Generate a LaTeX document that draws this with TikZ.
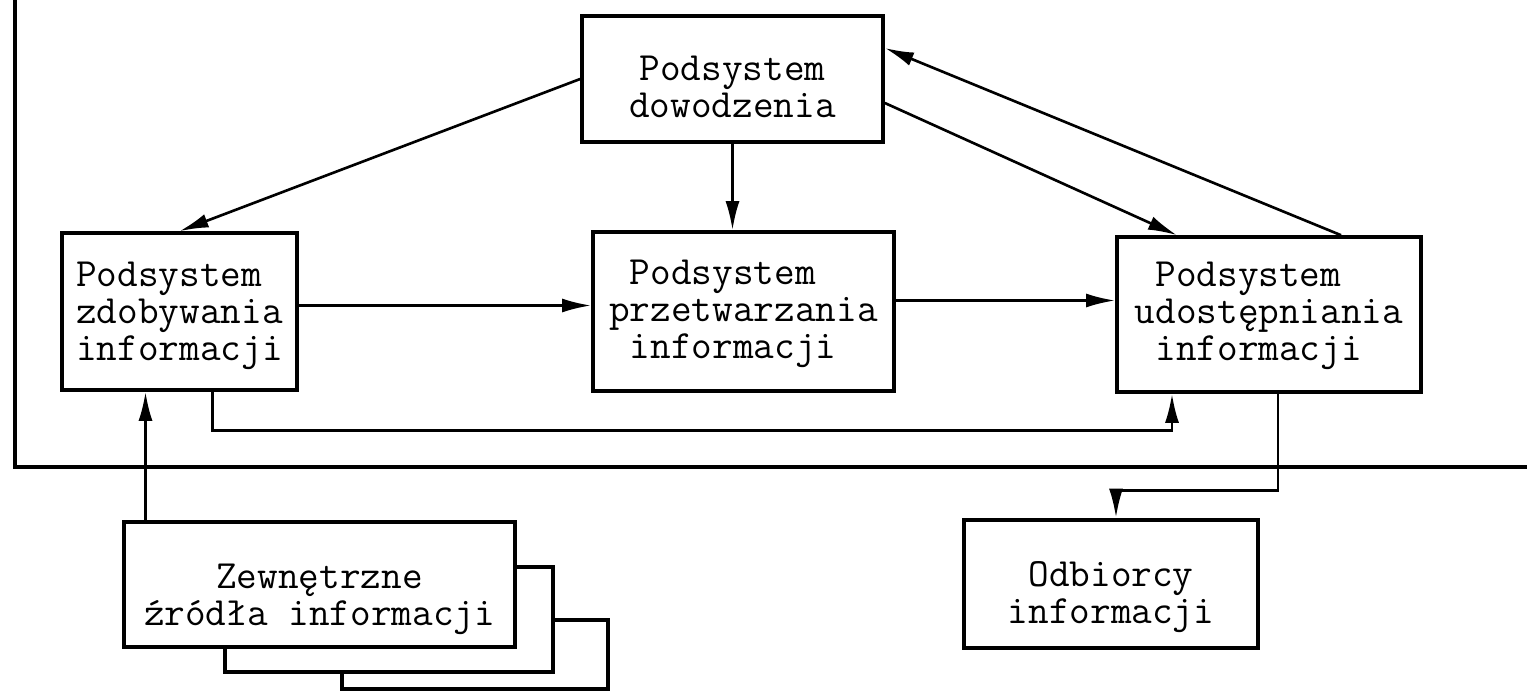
\documentclass[tikz,border=0pt]{standalone}
\usepackage{fontspec}
\usepackage{tikz}
\usetikzlibrary{arrows.meta, positioning, calc}
\tikzset{
  box/.style={rectangle, draw=black, fill=white, line width=1pt,
    font=\ttfamily\fontsize{11.4}{10.4}\selectfont, inner sep=2pt},
  leftbox/.style={box, align=left},
  midbox/.style={box, align=center},
  heavybox/.style={box, line width=1.3pt, align=center},
  stackbox/.style={draw=black, fill=white, line width=1.3pt},
  textat/.style={text height=#1, text depth=0.1cm},
  arrow/.style={-{Latex[length=2.9mm, width=1.4mm]}, line width=0.75pt},
  frameline/.style={line width=1.2pt}
}

\begin{document}
\begin{tikzpicture}[x=0.01cm, y=-0.01cm]
  \useasboundingbox (0,0) rectangle (1527,691);

  % Frame of the system
  \draw[frameline] (15,0) -- (15,467) -- (1527,467);

  % Subsystems
  \node[midbox, textat=0.86cm, minimum width=3.01cm, minimum height=1.26cm]
    (dow) at (732.5,79) {Podsystem\\dowodzenia};
  \node[leftbox, textat=1.07cm, minimum width=2.35cm, minimum height=1.57cm]
    (zdo) at (179.5,311.5) {Podsystem\\zdobywania\\informacji};
  \node[leftbox, textat=1.03cm, minimum width=3.01cm, minimum height=1.59cm]
    (prz) at (743.5,311.5) {\hphantom{P}Podsystem\\przetwarzania\\\hphantom{P}informacji};
  \node[leftbox, textat=1.01cm, minimum width=3.04cm, minimum height=1.55cm]
    (udo) at (1269,314.5) {\hphantom{P}Podsystem\\udostępniania\\\hphantom{P}informacji};

  % Outside the system
  \draw[stackbox] (342,620) rectangle (608,689);
  \draw[stackbox] (225,567) rectangle (553,672);
  \node[heavybox, textat=0.91cm, minimum width=3.91cm, minimum height=1.25cm]
    (zew) at (319.5,584.5) {Zewnętrzne\\źródła informacji};
  \node[heavybox, textat=0.88cm, minimum width=2.94cm, minimum height=1.28cm]
    (odb) at (1111,584) {Odbiorcy\\informacji};

  % Command links
  \draw[arrow] (dow.west) -- (zdo.north);
  \draw[arrow] (dow.south) -- (dow.south |- prz.north);
  \draw[arrow] ($(dow.east)+(0,24)$) -- ($(udo.north)+(-92,0)$);
  \draw[arrow] ($(udo.north)+(72,0)$) -- ($(dow.east)+(0,-31)$);

  % Information flow
  \draw[arrow] ($(zdo.east)+(0,-6)$) coordinate (a1) -- (a1 -| prz.west);
  \draw[arrow] ($(prz.east)+(0,-11)$) coordinate (a2) -- (a2 -| udo.west);
  \draw[arrow] ($(zdo.south)+(33,0)$) -- ++(0,39) -| ($(udo.south)+(-97,0)$);
  \draw[arrow] ($(zew.north)+(-174,0)$) coordinate (a3) -- (a3 |- zdo.south);
  \draw[arrow] ($(udo.south)+(9,0)$) -- ++(0,97) -| ($(odb.north)+(5,0)$);
\end{tikzpicture}
\end{document}
